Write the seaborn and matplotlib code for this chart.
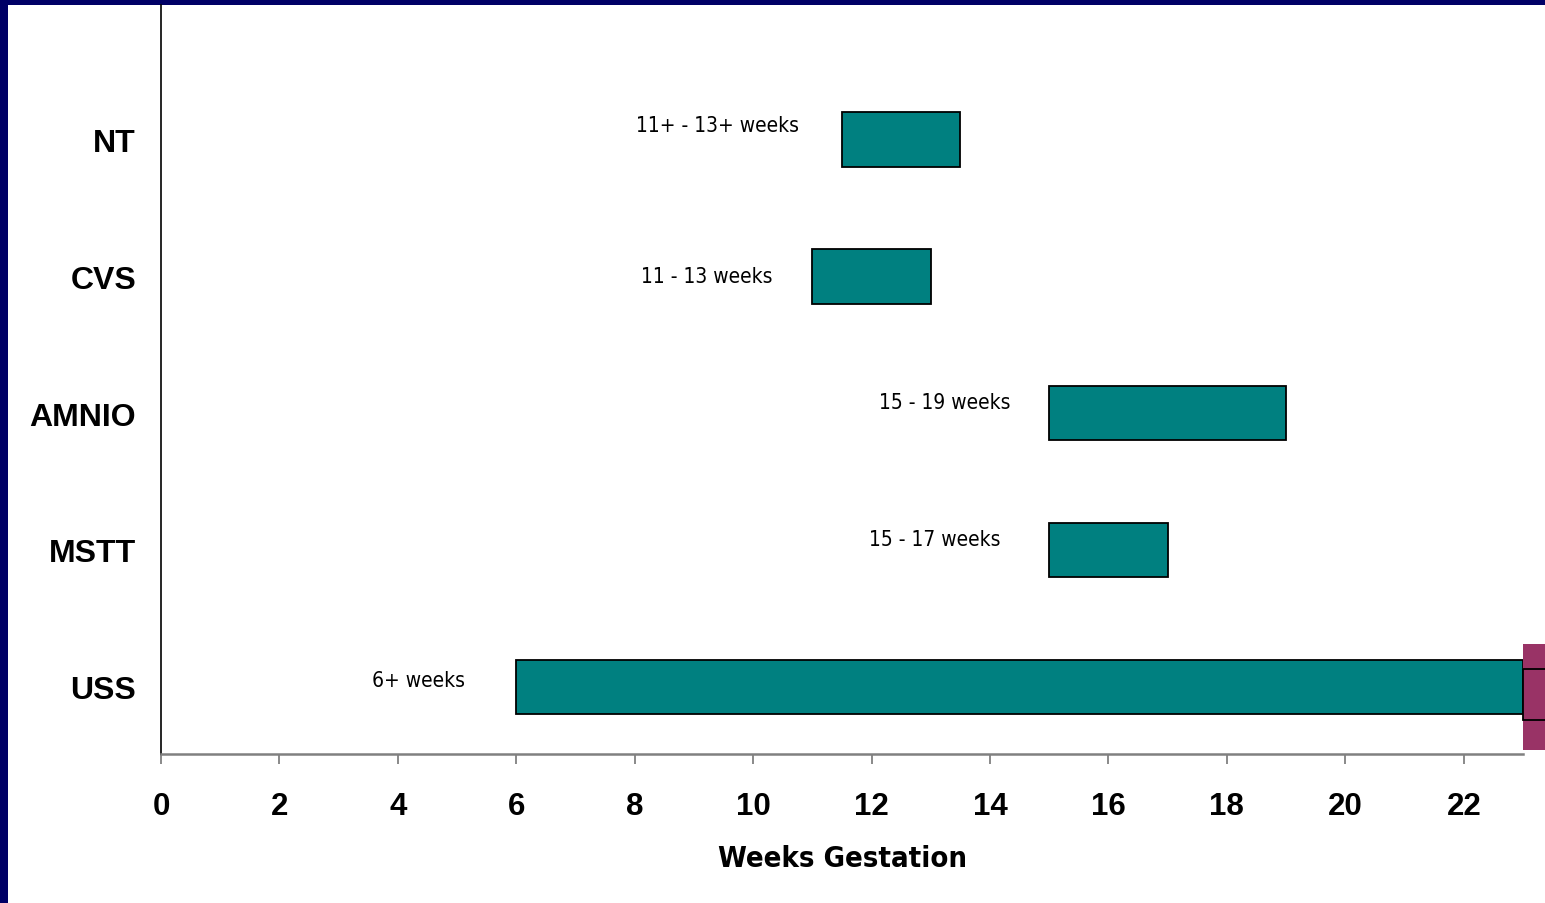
import matplotlib
matplotlib.use("Agg")
import matplotlib.pyplot as plt
import seaborn as sns
import pandas as pd
from matplotlib.patches import Rectangle

# chart data
tests = ['NT', 'CVS', 'AMNIO', 'MSTT', 'USS']
start_week = [11.5, 11.0, 15.0, 15.0, 6.0]
end_week = [13.5, 13.0, 19.0, 17.0, 23.0]
range_labels = ['11+ - 13+ weeks', '11 - 13 weeks', '15 - 19 weeks', '15 - 17 weeks', '6+ weeks']
x_ticks = list(range(0, 23, 2))

df = pd.DataFrame({
    'Test': tests,
    'Start': start_week,
    'Length': [e - s for s, e in zip(start_week, end_week)],
})

sns.set_theme(style='white')
plt.rcParams['font.family'] = ['Liberation Sans', 'DejaVu Sans']
plt.rcParams['text.color'] = 'black'
plt.rcParams['xtick.labelcolor'] = 'black'
plt.rcParams['ytick.labelcolor'] = 'black'
plt.rcParams['axes.labelcolor'] = 'black'

navy = '#000066'
teal = '#008080'

fig = plt.figure(figsize=(15.45, 9.04), dpi=100, facecolor=navy)
# white slide panel
fig.patches.append(Rectangle((8 / 1545, 0), 1, 1 - 6 / 904, transform=fig.transFigure,
                             facecolor='white', edgecolor='none', zorder=-1))

ax = fig.add_axes([161 / 1545, 1 - 755 / 904, (1523 - 161) / 1545, (755 - 6) / 904])
ax.set_facecolor('none')

sns.barplot(data=df, x='Length', y='Test', orient='h', order=tests, color=teal,
            saturation=1, width=0.4, edgecolor='black', linewidth=1.3, ax=ax)

# shift each bar to its starting week
for patch, s in zip(ax.patches, df['Start']):
    patch.set_x(s)

ax.set_xlim(0, 23)
ax.set_ylim(4.49, -0.98)

# labels left of the bars
label_right = [10.77, 10.33, 14.35, 14.17, 5.13]
label_dy = [-0.10, 0.0, -0.08, -0.08, -0.05]
for i, txt in enumerate(range_labels):
    ax.text(label_right[i], i + label_dy[i], txt, ha='right', va='center',
            fontsize=15, family=['DejaVu Sans'], stretch='condensed', color='black')

# magenta marker cut off at the right edge
ax.add_patch(Rectangle((23, 4 - 0.31), 0.6, 0.77, facecolor='#993366', edgecolor='none',
                       clip_on=False, zorder=3))
ax.add_patch(Rectangle((23, 4 - 0.13), 0.6, 0.37, facecolor='none', edgecolor='black',
                       linewidth=1.3, clip_on=False, zorder=4))

ax.set_xticks(x_ticks)
ax.set_xticklabels([str(t) for t in x_ticks], fontsize=22.5, fontweight='bold')
ax.set_yticks(range(len(tests)))
ax.set_yticklabels(tests, fontsize=23, fontweight='bold')
ax.tick_params(axis='x', direction='out', length=7.5, width=1.3, color='#808080',
               pad=19, bottom=True)
ax.tick_params(axis='y', length=0, pad=18)

ax.set_xlabel('Weeks Gestation', fontsize=21, fontweight='bold', family=['DejaVu Sans'],
              stretch='condensed', labelpad=17)
ax.set_ylabel('')

for side in ['top', 'right']:
    ax.spines[side].set_visible(False)
ax.spines['left'].set_color('black')
ax.spines['left'].set_linewidth(1.2)
ax.spines['bottom'].set_color('#808080')
ax.spines['bottom'].set_linewidth(1.8)

fig.savefig('out.png', dpi=100, facecolor=navy)
